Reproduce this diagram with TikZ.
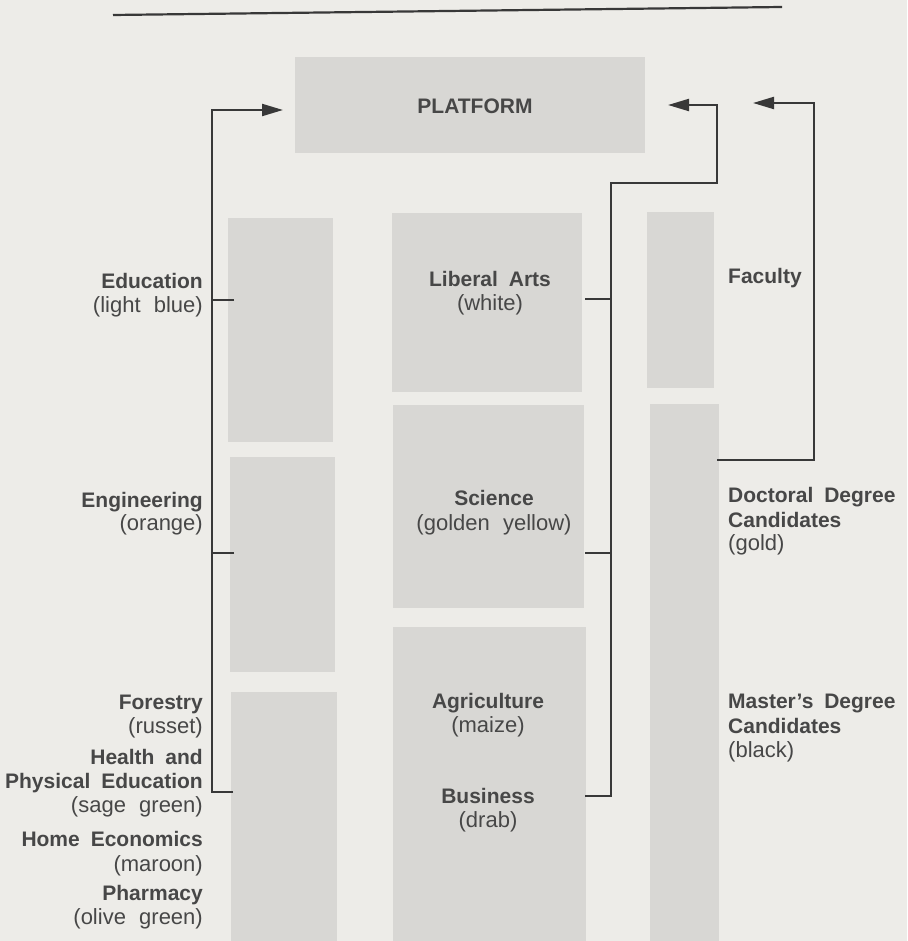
\documentclass[tikz,border=0pt]{standalone}
\usepackage{fontspec}
\setmainfont{Liberation Sans}
\usetikzlibrary{arrows.meta}
\definecolor{paper}{HTML}{EDECE8}
\definecolor{boxgray}{HTML}{D8D7D4}
\definecolor{ink}{HTML}{474747}
\definecolor{linec}{HTML}{383838}
\newcommand\myboldfont{\fontsize{21}{25}\selectfont\bfseries\spaceskip 0.52em\relax}
\newcommand\myregfont{\fontsize{22}{25}\selectfont\spaceskip 0.6em\relax}
\tikzset{
  box/.style={fill=boxgray, draw=none, inner sep=0pt, outer sep=0pt, anchor=north west},
  boldlbl/.style={text=ink, inner sep=0pt, font=\myboldfont},
  reglbl/.style={text=ink, inner sep=0pt, font=\myregfont},
  conn/.style={draw=linec, line width=2.2pt},
  arr/.style={conn, -{Triangle[length=21pt,width=12pt]}},
}
\begin{document}
\begin{tikzpicture}[x=1pt,y=-1pt]
\fill[paper] (0,0) rectangle (907,941);
\useasboundingbox (0,0) rectangle (907,941);

% top rule
\coordinate (ruleA) at (113,15);
\coordinate (ruleB) at (782,7);
\draw[conn] (ruleA) -- (ruleB);

% boxes
\node[box, minimum width=350pt, minimum height=96pt] (platform) at (295,57) {};
\node[box, minimum width=105pt, minimum height=224pt] (L1) at (228,218) {};
\node[box, minimum width=105pt, minimum height=215pt] (L2) at (230,457) {};
\node[box, minimum width=106pt, minimum height=249pt] (L3) at (231,692) {};
\node[box, minimum width=190pt, minimum height=179pt] (M1) at (392,213) {};
\node[box, minimum width=191pt, minimum height=203pt] (M2) at (393,405) {};
\node[box, minimum width=193pt, minimum height=314pt] (M3) at (393,627) {};
\node[box, minimum width=67pt, minimum height=176pt] (R1) at (647,212) {};
\node[box, minimum width=69pt, minimum height=537pt] (R2) at (650,404) {};

\node[boldlbl, anchor=base] (plat) at (475,114) {PLATFORM};

% left labels
\node[boldlbl, anchor=base east] (edu) at (203,288) {Education};
\node[reglbl, anchor=base east] (educ) at (203,312) {(light blue)};
\node[boldlbl, anchor=base east] (eng) at (203,507) {Engineering};
\node[reglbl, anchor=base east] (engc) at (203,530) {(orange)};
\node[boldlbl, anchor=base east] (for) at (203,709) {Forestry};
\node[reglbl, anchor=base east] (forc) at (203,733) {(russet)};
\node[boldlbl, anchor=base east] (hpe1) at (203,764) {Health and};
\node[boldlbl, anchor=base east] (hpe2) at (203,788) {Physical Education};
\node[reglbl, anchor=base east] (hpec) at (203,812) {(sage green)};
\node[boldlbl, anchor=base east] (home) at (203,846) {Home Economics};
\node[reglbl, anchor=base east] (homec) at (203,871) {(maroon)};
\node[boldlbl, anchor=base east] (pha) at (203,900) {Pharmacy};
\node[reglbl, anchor=base east] (phac) at (203,924) {(olive green)};

% middle labels
\node[boldlbl, anchor=base] (lib) at (490,286) {Liberal Arts};
\node[reglbl, anchor=base] (libc) at (490,310) {(white)};
\node[boldlbl, anchor=base] (sci) at (494,505) {Science};
\node[reglbl, anchor=base] (scic) at (494,530) {(golden yellow)};
\node[boldlbl, anchor=base] (agr) at (488,708) {Agriculture};
\node[reglbl, anchor=base] (agrc) at (488,732) {(maize)};
\node[boldlbl, anchor=base] (bus) at (488,803) {Business};
\node[reglbl, anchor=base] (busc) at (488,827) {(drab)};

% right labels
\node[boldlbl, anchor=base west] (fac) at (728,283) {Faculty};
\node[boldlbl, anchor=base west] (doc1) at (728,502) {Doctoral Degree};
\node[boldlbl, anchor=base west] (doc2) at (728,527) {Candidates};
\node[reglbl, anchor=base west] (docc) at (728,550) {(gold)};
\node[boldlbl, anchor=base west] (mas1) at (728,708) {Master’s Degree};
\node[boldlbl, anchor=base west] (mas2) at (728,733) {Candidates};
\node[reglbl, anchor=base west] (masc) at (728,757) {(black)};

% left connector
\coordinate (t1) at (234,300);
\coordinate (t2) at (234,553);
\coordinate (t3) at (233,792);
\coordinate (ls) at (212,792);
\coordinate (lt) at (212,110);
\draw[arr] (t3) -- (ls) -- (lt) -- ([xshift=-12pt,yshift=-5pt]platform.west);
\draw[conn] (t1) -- (t1 -| ls);
\draw[conn] (t2) -- (t2 -| ls);

% middle connector
\coordinate (m1) at (585,299);
\coordinate (m2) at (585,553);
\coordinate (m3) at (585,796);
\coordinate (ms) at (611,796);
\coordinate (mt) at (611,183);
\coordinate (mr) at (717,183);
\coordinate (mu) at (717,105);
\draw[arr] (m3) -- (ms) -- (mt) -- (mr) -- (mu) -- ([xshift=23pt]platform.east);
\draw[conn] (m1) -- (m1 -| ms);
\draw[conn] (m2) -- (m2 -| ms);

% faculty connector
\coordinate (f0) at (717,460);
\coordinate (f1) at (814,460);
\coordinate (f2) at (814,103);
\coordinate (f3) at (753,103);
\draw[arr] (f0) -- (f1) -- (f2) -- (f3);
\end{tikzpicture}
\end{document}
